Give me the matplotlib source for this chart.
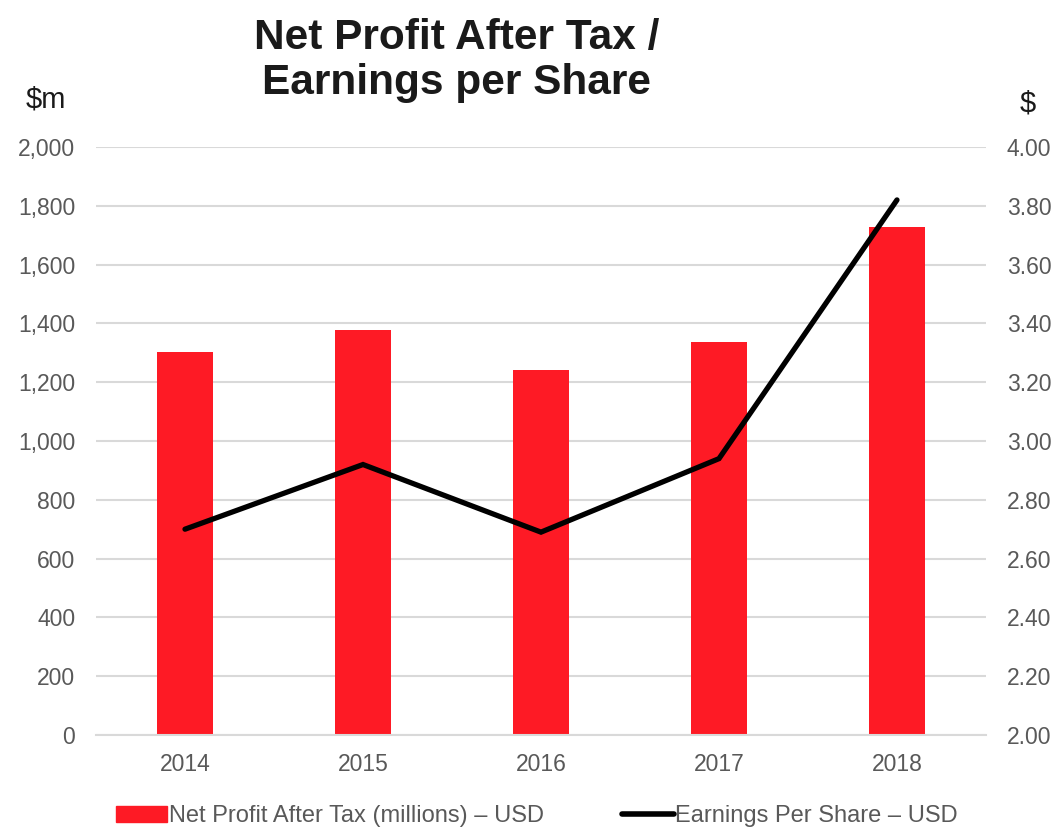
import matplotlib
matplotlib.use('Agg')
import matplotlib.pyplot as plt
import matplotlib.patches as mpatches
from matplotlib.lines import Line2D

plt.rcParams['font.family'] = ['Liberation Sans', 'DejaVu Sans']

# ── Data ──────────────────────────────────────────────────────────────────────
years      = ['2014', '2015', '2016', '2017', '2018']
npat       = [1304, 1378, 1242, 1337, 1729]      # $m
eps        = [2.70, 2.92, 2.69, 2.94, 3.82]      # $
left_ticks = [0, 200, 400, 600, 800, 1000, 1200, 1400, 1600, 1800, 2000]
right_ticks = [2.00, 2.20, 2.40, 2.60, 2.80, 3.00, 3.20, 3.40, 3.60, 3.80, 4.00]

RED   = '#fe1a25'
GREY  = '#595959'
GRID  = '#d9d9d9'
FS_TICK = 16.5
FS_LEG  = 17

fig = plt.figure(figsize=(10.56, 8.32), dpi=100)
ax1 = fig.add_axes([0.0909, 0.1166, 0.8428, 0.7067])

x = list(range(len(years)))
ax1.bar(x, npat, width=0.315, color=RED, zorder=2)
ax1.set_xlim(-0.5, len(years) - 0.5)
ax1.set_ylim(0, 2000)
ax1.set_yticks(left_ticks)
ax1.set_yticklabels([f'{v:,}' for v in left_ticks])
ax1.set_xticks(x)
ax1.set_xticklabels(years)
ax1.grid(axis='y', color=GRID, linewidth=1.5, zorder=0)
ax1.set_axisbelow(True)
for s in ['top', 'right', 'left']:
    ax1.spines[s].set_visible(False)
ax1.spines['bottom'].set_color(GRID)
ax1.spines['bottom'].set_linewidth(1.5)
ax1.tick_params(axis='both', length=0, labelsize=FS_TICK, colors=GREY)
ax1.tick_params(axis='x', pad=13)
ax1.tick_params(axis='y', pad=15)

ax2 = ax1.twinx()
ax2.plot(x, eps, color='black', linewidth=3.8, solid_capstyle='round',
         solid_joinstyle='miter', zorder=3)
ax2.set_ylim(2.0, 4.0)
ax2.set_yticks(right_ticks)
ax2.set_yticklabels([f'{v:.2f}' for v in right_ticks])
for s in ['top', 'right', 'left', 'bottom']:
    ax2.spines[s].set_visible(False)
ax2.tick_params(axis='y', length=0, labelsize=FS_TICK, colors=GREY, pad=15)

fig.text(0.432, 0.978, 'Net Profit After Tax /\nEarnings per Share',
         ha='center', va='top', fontsize=30.5, fontweight='bold',
         linespacing=1.14, color='#1a1a1a')
fig.text(0.043, 0.880, '$m', ha='center', va='center', fontsize=21, color='#1a1a1a')
fig.text(0.973, 0.876, '$', ha='center', va='center', fontsize=21, color='#1a1a1a')

handles = [
    mpatches.Patch(color=RED, label='Net Profit After Tax (millions) \u2013 USD'),
    Line2D([0], [0], color='black', linewidth=4, solid_capstyle='round',
           label='Earnings Per Share \u2013 USD'),
]
leg = fig.legend(handles=handles, loc='center', bbox_to_anchor=(0.508, 0.019),
                 ncol=2, frameon=False, fontsize=FS_LEG, handlelength=2.2,
                 handletextpad=0.05, columnspacing=3.3)
for t in leg.get_texts():
    t.set_color(GREY)

fig.savefig('out.png', dpi=100)
